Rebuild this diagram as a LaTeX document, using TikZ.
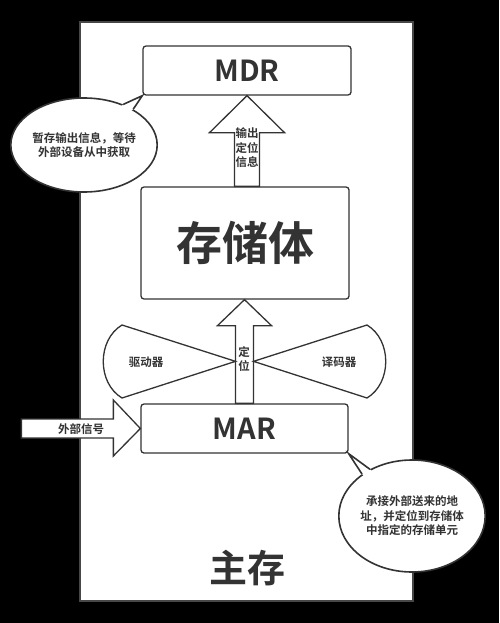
\documentclass[tikz,border=0pt]{standalone}
\usepackage{fontspec}
\setmainfont{Noto Sans CJK SC}[BoldFont={Noto Sans CJK SC Bold}]
\usetikzlibrary{shapes.geometric,calc}
\definecolor{ink}{HTML}{333333}
\begin{document}
\begin{tikzpicture}[x=1pt,y=-1pt,
  box/.style={draw=ink,line width=1.3pt,rounded corners=3pt,fill=white,inner sep=0pt,text=ink},
  blk/.style={draw=ink,line width=1.3pt,fill=white,line join=miter},
  bubble/.style={ellipse,draw=ink,line width=1.6pt,fill=white,inner sep=0pt,text=ink,align=center,
     font=\fontsize{11.5}{14.5}\selectfont\bfseries},
  small/.style={font=\fontsize{11.5}{14.5}\selectfont\bfseries,text=ink,align=center,inner sep=0pt},
  tail/.style={draw=ink,line width=1.6pt,line join=miter}]
\fill[black] (0,0) rectangle (499,623);
\useasboundingbox (0,0) rectangle (499,623);
% main memory frame
\node[draw=ink!90,line width=2pt,fill=white,minimum width=333pt,minimum height=579pt,inner sep=0pt] (main) at (246.5,311.5) {};
\node[text=ink,font=\fontsize{38}{38}\selectfont\bfseries,inner sep=0pt] (zhucun) at (247,568) {主存};
% boxes
\node[box,minimum width=208pt,minimum height=49pt,font=\fontsize{29}{29}\selectfont\bfseries] (mdr) at (247,70.5) {MDR};
\node[box,minimum width=208pt,minimum height=112pt,font=\fontsize{46}{46}\selectfont\bfseries] (store) at (245,243) {存储体};
\node[box,minimum width=207pt,minimum height=49pt,font=\fontsize{29}{29}\selectfont\bfseries] (mar) at (244.5,428.5) {MAR};
% arrow store -> MDR
\coordinate (a1t) at (mdr.south);
\coordinate (a1b) at (store.north -| mdr.south);
\draw[blk] ($(a1b)+(-12.5,0)$) -- ($(a1t)+(-12.5,37)$) -- ($(a1t)+(-37.5,37)$) -- (a1t)
   -- ($(a1t)+(37.5,37)$) -- ($(a1t)+(12.5,37)$) -- ($(a1b)+(12.5,0)$) -- cycle;
\node[small] (a1lab) at ($(a1t)+(0,52)$) {输出\\定位\\信息};
% arrow MAR -> store
\coordinate (a2t) at (store.south -| mar.north);
\coordinate (a2b) at (mar.north);
\draw[blk] ($(a2b)+(-9,0)$) -- ($(a2t)+(-9,26)$) -- ($(a2t)+(-27,26)$) -- (a2t)
   -- ($(a2t)+(27,26)$) -- ($(a2t)+(9,26)$) -- ($(a2b)+(9,0)$) -- cycle;
\node[small] (a2lab) at (244,359) {定\\位};
% bow-tie shapes
\coordinate (dl) at ($(a2b)+(-9,-42)$);
\coordinate (dr) at ($(a2b)+(9,-42)$);
\draw[ink,line width=1.3pt,line join=miter] (dl) -- (122,325) .. controls (97,340) and (97,383) .. (122,398) -- cycle;
\draw[ink,line width=1.3pt,line join=miter] (dr) -- (367,325) .. controls (392,340) and (392,383) .. (367,398) -- cycle;
\node[small] (drv) at (146,362) {驱动器};
\node[small] (dec) at (339,362) {译码器};
% external signal arrow
\coordinate (a3t) at (mar.west);
\draw[blk] ($(a3t)+(-119,-9.5)$) -- ($(a3t)+(-27,-9.5)$) -- ($(a3t)+(-27,-28.5)$) -- (a3t)
   -- ($(a3t)+(-27,27.5)$) -- ($(a3t)+(-27,9.5)$) -- ($(a3t)+(-119,9.5)$) -- cycle;
\node[small] (ext) at (81,429) {外部信号};
% bubble 1
\node[bubble,minimum width=118pt,minimum height=94pt] (b1) at (84,145) {暂存输出信息，等待\\外部设备从中获取};
\fill[white] ($(b1.center)!0.85!(b1.46)$) -- (b1.46) -- (mdr.south west) -- (b1.36) -- ($(b1.center)!0.85!(b1.36)$) -- cycle;
\draw[tail] (b1.46) -- (mdr.south west) -- (b1.36);
% bubble 2
\node[bubble,minimum width=130pt,minimum height=112pt] (b2) at (412,516) {承接外部送来的地\\址，并定位到存储体\\中指定的存储单元};
\fill[white] ($(b2.center)!0.85!(b2.132)$) -- (b2.132) -- (mar.south east) -- (b2.140) -- ($(b2.center)!0.85!(b2.140)$) -- cycle;
\draw[tail] (b2.132) -- (mar.south east) -- (b2.140);
\end{tikzpicture}
\end{document}
